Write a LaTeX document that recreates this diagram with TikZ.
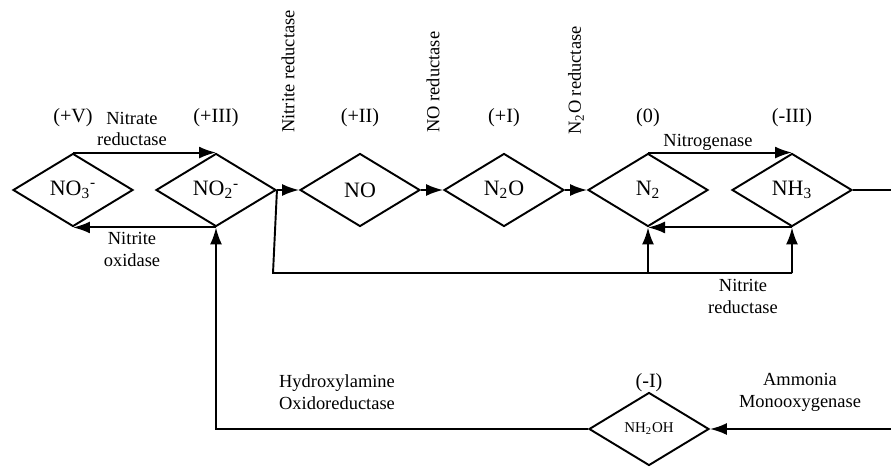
\documentclass[tikz,border=0pt]{standalone}
\usepackage{fontspec}
\setmainfont{Liberation Serif}
\usetikzlibrary{shapes.geometric}
\usetikzlibrary{arrows.meta}

\tikzset{
  species/.style={draw,diamond,line width=1.1pt,aspect=1.64,minimum width=2.4cm,
    minimum height=1.46cm,inner sep=0pt,font=\fontsize{12.5}{14}\selectfont},
  state/.style={inner sep=0pt,font=\fontsize{11.5}{13}\selectfont},
  enzyme/.style={align=center,inner sep=0pt,font=\fontsize{10.5}{12.5}\selectfont},
  flow/.style={line width=1.1pt,-{Latex[length=0.34cm,width=0.24cm]}},
  link/.style={line width=1.1pt}
}

\begin{document}
\begin{tikzpicture}[x=0.02cm,y=-0.02cm]%[font=\small]
\useasboundingbox (0,0) rectangle (891,466);
% species
\node[species] (NO3) at (73,190) {NO\textsubscript{3}\textsuperscript{-}};
\node[species] (NO2) at (216,190) {NO\textsubscript{2}\textsuperscript{-}};
\node[species] (NO) at (360,190) {NO};
\node[species] (N2O) at (504,190) {N\textsubscript{2}O};
\node[species] (N2) at (648,190) {N\textsubscript{2}};
\node[species] (NH3) at (792,190) {NH\textsubscript{3}};
\node[species,font=\fontsize{8.5}{10}\selectfont] (NH2OH) at (649,429) {NH\textsubscript{2}OH};
% oxidation states
\node[state] (sV) at (73,118) {(+V)};
\node[state] (sIII) at (216,118) {(+III)};
\node[state] (sII) at (360,118) {(+II)};
\node[state] (sI) at (504,118) {(+I)};
\node[state] (s0) at (648,118) {(0)};
\node[state] (smIII) at (792,118) {(-III)};
\node[state] (smI) at (649,383) {(-I)};
% enzymes
\node[enzyme] (nar) at (132,129) {Nitrate\\reductase};
\node[enzyme] (nxr) at (132,249) {Nitrite\\oxidase};
\node[enzyme,rotate=90,anchor=west] (nir) at (288,133) {Nitrite reductase};
\node[enzyme,rotate=90,anchor=west] (nor) at (433,133) {NO reductase};
\node[enzyme,rotate=90,anchor=west] (nos) at (576,135) {N\textsubscript{2}O reductase};
\node[enzyme] (nif) at (708,142) {Nitrogenase};
\node[enzyme] (nrf) at (743,296) {Nitrite\\reductase};
\node[enzyme] (hao) at (337,392) {Hydroxylamine\\Oxidoreductase};
\node[enzyme] (amo) at (800,392) {Ammonia\\Monooxygenase};
% reactions
\draw[flow] (NO3.north) -- (NO2.north);
\draw[flow] (NO2.south) -- (NO3.south);
\draw[flow] (NO2.east) -- (NO.west);
\draw[flow] (NO.east) -- (N2O.west);
\draw[flow] (N2O.east) -- (N2.west);
\draw[flow] (N2.north) -- (NH3.north);
\draw[flow] (NH3.south) -- (N2.south);
\coordinate (loop) at (273,273);
\draw[link] (NO2.east) -- (loop) -- (loop -| NH3.south);
\draw[flow] (loop -| N2.south) -- (N2.south);
\draw[flow] (loop -| NH3.south) -- (NH3.south);
\coordinate (outA) at (891,190);
\coordinate (outB) at (891,429);
\draw[link] (NH3.east) -- (outA);
\draw[flow] (outB) -- (NH2OH.east);
\draw[flow] (NH2OH.west) -| (NO2.south);
\end{tikzpicture}
\end{document}
